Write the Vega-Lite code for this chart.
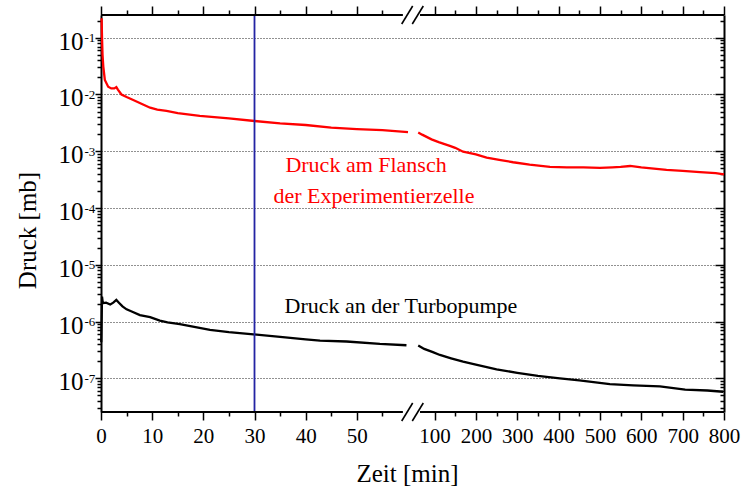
{
  "$schema": "https://vega.github.io/schema/vega-lite/v6.json",
  "width": 623,
  "height": 397,
  "autosize": "none",
  "padding": {"left": 101, "top": 15, "right": 17, "bottom": 78},
  "config": {"font": "Liberation Serif", "view": {"stroke": null}},
  "datasets": {
    "curves": [
      {"series": "Flansch", "seg": 1, "t": 0.12, "p": 0.22},
      {"series": "Flansch", "seg": 1, "t": 0.2, "p": 0.1},
      {"series": "Flansch", "seg": 1, "t": 0.3, "p": 0.05},
      {"series": "Flansch", "seg": 1, "t": 0.45, "p": 0.031},
      {"series": "Flansch", "seg": 1, "t": 0.75, "p": 0.018},
      {"series": "Flansch", "seg": 1, "t": 1.4, "p": 0.0137},
      {"series": "Flansch", "seg": 1, "t": 2.0, "p": 0.0128},
      {"series": "Flansch", "seg": 1, "t": 2.6, "p": 0.0128},
      {"series": "Flansch", "seg": 1, "t": 3.0, "p": 0.0135},
      {"series": "Flansch", "seg": 1, "t": 3.3, "p": 0.0122},
      {"series": "Flansch", "seg": 1, "t": 4.0, "p": 0.0100},
      {"series": "Flansch", "seg": 1, "t": 5.0, "p": 0.0090},
      {"series": "Flansch", "seg": 1, "t": 6.3, "p": 0.0080},
      {"series": "Flansch", "seg": 1, "t": 8.0, "p": 0.0068},
      {"series": "Flansch", "seg": 1, "t": 9.6, "p": 0.00585},
      {"series": "Flansch", "seg": 1, "t": 11, "p": 0.0054},
      {"series": "Flansch", "seg": 1, "t": 12.8, "p": 0.00512},
      {"series": "Flansch", "seg": 1, "t": 15, "p": 0.0047},
      {"series": "Flansch", "seg": 1, "t": 19.3, "p": 0.00418},
      {"series": "Flansch", "seg": 1, "t": 25, "p": 0.0038},
      {"series": "Flansch", "seg": 1, "t": 30, "p": 0.00341},
      {"series": "Flansch", "seg": 1, "t": 35, "p": 0.0031},
      {"series": "Flansch", "seg": 1, "t": 40, "p": 0.0029},
      {"series": "Flansch", "seg": 1, "t": 45, "p": 0.0026},
      {"series": "Flansch", "seg": 1, "t": 50, "p": 0.00246},
      {"series": "Flansch", "seg": 1, "t": 55, "p": 0.00235},
      {"series": "Flansch", "seg": 1, "t": 60, "p": 0.00218},
      {"series": "Flansch", "seg": 2, "t": 60.6, "p": 0.00214},
      {"series": "Flansch", "seg": 2, "t": 70, "p": 0.00196},
      {"series": "Flansch", "seg": 2, "t": 92.7, "p": 0.00162},
      {"series": "Flansch", "seg": 2, "t": 110, "p": 0.00145},
      {"series": "Flansch", "seg": 2, "t": 137, "p": 0.00124},
      {"series": "Flansch", "seg": 2, "t": 150, "p": 0.00115},
      {"series": "Flansch", "seg": 2, "t": 169, "p": 0.00098},
      {"series": "Flansch", "seg": 2, "t": 200, "p": 0.00088},
      {"series": "Flansch", "seg": 2, "t": 226, "p": 0.00077},
      {"series": "Flansch", "seg": 2, "t": 260, "p": 0.0007},
      {"series": "Flansch", "seg": 2, "t": 290, "p": 0.00064},
      {"series": "Flansch", "seg": 2, "t": 330, "p": 0.00058},
      {"series": "Flansch", "seg": 2, "t": 379, "p": 0.00053},
      {"series": "Flansch", "seg": 2, "t": 420, "p": 0.00052},
      {"series": "Flansch", "seg": 2, "t": 460, "p": 0.00052},
      {"series": "Flansch", "seg": 2, "t": 500, "p": 0.00051},
      {"series": "Flansch", "seg": 2, "t": 530, "p": 0.00052},
      {"series": "Flansch", "seg": 2, "t": 550, "p": 0.00053},
      {"series": "Flansch", "seg": 2, "t": 573, "p": 0.00055},
      {"series": "Flansch", "seg": 2, "t": 600, "p": 0.00052},
      {"series": "Flansch", "seg": 2, "t": 661, "p": 0.00047},
      {"series": "Flansch", "seg": 2, "t": 700, "p": 0.00045},
      {"series": "Flansch", "seg": 2, "t": 742, "p": 0.00043},
      {"series": "Flansch", "seg": 2, "t": 780, "p": 0.00041},
      {"series": "Flansch", "seg": 2, "t": 800, "p": 0.00039},
      {"series": "Turbo", "seg": 1, "t": 0.05, "p": 4.3e-7},
      {"series": "Turbo", "seg": 1, "t": 0.2, "p": 2.75e-6},
      {"series": "Turbo", "seg": 1, "t": 0.35, "p": 2.1e-6},
      {"series": "Turbo", "seg": 1, "t": 1.0, "p": 2.15e-6},
      {"series": "Turbo", "seg": 1, "t": 1.8, "p": 2.0e-6},
      {"series": "Turbo", "seg": 1, "t": 2.4, "p": 2.15e-6},
      {"series": "Turbo", "seg": 1, "t": 3.0, "p": 2.4e-6},
      {"series": "Turbo", "seg": 1, "t": 3.5, "p": 2.15e-6},
      {"series": "Turbo", "seg": 1, "t": 4.2, "p": 1.85e-6},
      {"series": "Turbo", "seg": 1, "t": 5.0, "p": 1.64e-6},
      {"series": "Turbo", "seg": 1, "t": 6.0, "p": 1.5e-6},
      {"series": "Turbo", "seg": 1, "t": 7.6, "p": 1.3e-6},
      {"series": "Turbo", "seg": 1, "t": 9.6, "p": 1.2e-6},
      {"series": "Turbo", "seg": 1, "t": 11.5, "p": 1.04e-6},
      {"series": "Turbo", "seg": 1, "t": 13, "p": 9.7e-7},
      {"series": "Turbo", "seg": 1, "t": 15.4, "p": 9.0e-7},
      {"series": "Turbo", "seg": 1, "t": 21.3, "p": 7.1e-7},
      {"series": "Turbo", "seg": 1, "t": 25, "p": 6.5e-7},
      {"series": "Turbo", "seg": 1, "t": 29.8, "p": 5.96e-7},
      {"series": "Turbo", "seg": 1, "t": 35, "p": 5.37e-7},
      {"series": "Turbo", "seg": 1, "t": 40, "p": 4.85e-7},
      {"series": "Turbo", "seg": 1, "t": 42.8, "p": 4.6e-7},
      {"series": "Turbo", "seg": 1, "t": 48, "p": 4.45e-7},
      {"series": "Turbo", "seg": 1, "t": 54.5, "p": 4.03e-7},
      {"series": "Turbo", "seg": 1, "t": 59.7, "p": 3.82e-7},
      {"series": "Turbo", "seg": 2, "t": 60.6, "p": 3.8e-7},
      {"series": "Turbo", "seg": 2, "t": 75, "p": 3.3e-7},
      {"series": "Turbo", "seg": 2, "t": 96, "p": 2.9e-7},
      {"series": "Turbo", "seg": 2, "t": 113, "p": 2.58e-7},
      {"series": "Turbo", "seg": 2, "t": 140, "p": 2.25e-7},
      {"series": "Turbo", "seg": 2, "t": 169, "p": 1.96e-7},
      {"series": "Turbo", "seg": 2, "t": 200, "p": 1.75e-7},
      {"series": "Turbo", "seg": 2, "t": 250, "p": 1.44e-7},
      {"series": "Turbo", "seg": 2, "t": 300, "p": 1.25e-7},
      {"series": "Turbo", "seg": 2, "t": 350, "p": 1.1e-7},
      {"series": "Turbo", "seg": 2, "t": 403, "p": 1.0e-7},
      {"series": "Turbo", "seg": 2, "t": 450, "p": 9.2e-8},
      {"series": "Turbo", "seg": 2, "t": 524, "p": 7.9e-8},
      {"series": "Turbo", "seg": 2, "t": 580, "p": 7.5e-8},
      {"series": "Turbo", "seg": 2, "t": 645, "p": 7.2e-8},
      {"series": "Turbo", "seg": 2, "t": 706, "p": 6.3e-8},
      {"series": "Turbo", "seg": 2, "t": 760, "p": 6.1e-8},
      {"series": "Turbo", "seg": 2, "t": 798, "p": 5.8e-8}
    ],
    "notes": [
      {"label": "Druck am Flansch", "t": 51.8, "p": 4.36e-4, "series": "Flansch"},
      {"label": "der Experimentierzelle", "t": 53.35, "p": 1.24e-4, "series": "Flansch"},
      {"label": "Druck an der Turbopumpe", "t": 58.63, "p": 1.397e-6, "series": "Turbo"}
    ]
  },
  "resolve": {"axis": {"x": "independent", "y": "independent"}},
  "layer": [
    {
      "data": {"name": "curves"},
      "mark": {"type": "line", "strokeWidth": 2.3, "clip": false},
      "encoding": {
        "x": {
          "field": "t", "type": "quantitative",
          "scale": {"type": "linear", "domain": [0, 60, 60.5, 800], "range": [0, 307, 317.2, 623], "nice": false, "zero": false},
          "axis": {
            "orient": "bottom",
            "values": [0, 5, 10, 15, 20, 25, 30, 35, 40, 45, 50, 55, 100, 150, 200, 250, 300, 350, 400, 450, 500, 550, 600, 650, 700, 750, 800],
            "labelExpr": "((datum.value < 60 && datum.value % 10 == 0) || (datum.value >= 100 && datum.value % 100 == 0)) ? datum.label : ''",
            "labelFont": "Liberation Serif", "labelFontSize": 21, "labelColor": "black",
            "labelPadding": 5, "labelOverlap": false, "labelFlush": false, "labelBound": false,
            "tickSize": {"condition": {"test": "(datum.value < 60 && datum.value % 10 == 0) || (datum.value >= 100 && datum.value % 100 == 0)", "value": 8}, "value": 4},
            "tickWidth": 1.5, "tickColor": "black",
            "domain": false, "grid": false,
            "title": "Zeit [min]", "titleFont": "Liberation Serif", "titleFontSize": 25, "titleFontWeight": "normal", "titleColor": "black",
            "titleX": 306, "titleY": 69, "titleBaseline": "alphabetic", "titleAlign": "center", "titleAngle": 0
          }
        },
        "y": {
          "field": "p", "type": "quantitative",
          "scale": {"type": "log", "domain": [2.55e-8, 0.2512], "nice": false},
          "axis": {
            "orient": "left",
            "values": [3e-8, 4e-8, 5e-8, 6e-8, 7e-8, 8e-8, 9e-8, 1e-7, 2e-7, 3e-7, 4e-7, 5e-7, 6e-7, 7e-7, 8e-7, 9e-7, 1e-6, 2e-6, 3e-6, 4e-6, 5e-6, 6e-6, 7e-6, 8e-6, 9e-6, 1e-5, 2e-5, 3e-5, 4e-5, 5e-5, 6e-5, 7e-5, 8e-5, 9e-5, 1e-4, 2e-4, 3e-4, 4e-4, 5e-4, 6e-4, 7e-4, 8e-4, 9e-4, 1e-3, 2e-3, 3e-3, 4e-3, 5e-3, 6e-3, 7e-3, 8e-3, 9e-3, 1e-2, 2e-2, 3e-2, 4e-2, 5e-2, 6e-2, 7e-2, 8e-2, 9e-2, 1e-1, 2e-1],
            "labelExpr": "abs(log(datum.value)/LN10 - round(log(datum.value)/LN10)) < 0.001 ? '10' : ''",
            "labelFont": "Liberation Serif", "labelFontSize": 25, "labelColor": "black",
            "labelBaseline": "alphabetic", "labelOffset": 11.5, "labelPadding": 12, "labelAlign": "right",
            "labelOverlap": false, "labelFlush": false, "labelBound": false,
            "tickSize": {"condition": {"test": "abs(log(datum.value)/LN10 - round(log(datum.value)/LN10)) < 0.001", "value": 6}, "value": 4},
            "tickWidth": 1.5, "tickColor": "black",
            "domain": true, "domainColor": "black", "domainWidth": 2,
            "grid": true, "gridDash": [1, 2], "gridColor": "#222222", "gridWidth": 1,
            "gridOpacity": {"condition": {"test": "abs(log(datum.value)/LN10 - round(log(datum.value)/LN10)) < 0.001", "value": 1}, "value": 0},
            "title": "Druck [mb]", "titleFont": "Liberation Serif", "titleFontSize": 25, "titleFontWeight": "normal", "titleColor": "black",
            "titleX": -66, "titleY": 215, "titleAngle": 270, "titleBaseline": "alphabetic", "titleAlign": "center"
          }
        },
        "color": {"field": "series", "type": "nominal", "scale": {"domain": ["Flansch", "Turbo"], "range": ["#ff0000", "#000000"]}, "legend": null},
        "detail": {"field": "seg"}
      }
    },
    {
      "data": {"values": [{}]},
      "mark": {"type": "rule", "color": "#2424a4", "strokeWidth": 1.8, "clip": false},
      "encoding": {
        "x": {
          "datum": 30, "type": "quantitative",
          "axis": {
            "orient": "top",
            "values": [0, 5, 10, 15, 20, 25, 30, 35, 40, 45, 50, 55, 100, 150, 200, 250, 300, 350, 400, 450, 500, 550, 600, 650, 700, 750, 800],
            "labels": false,
            "tickSize": {"condition": {"test": "(datum.value < 60 && datum.value % 10 == 0) || (datum.value >= 100 && datum.value % 100 == 0)", "value": 9}, "value": 5},
            "tickWidth": 1.5, "tickColor": "black",
            "domain": false, "grid": false, "title": null
          }
        },
        "y": {
          "datum": 2.55e-8, "type": "quantitative",
          "axis": {
            "orient": "left",
            "values": [1e-7, 1e-6, 1e-5, 1e-4, 1e-3, 1e-2, 1e-1],
            "labelExpr": "'-' + toString(-round(log(datum.value)/LN10))",
            "labelFont": "Liberation Serif", "labelFontSize": 13, "labelColor": "black",
            "labelBaseline": "alphabetic", "labelOffset": 4, "labelPadding": 17, "labelAlign": "left",
            "labelOverlap": false, "labelFlush": false, "labelBound": false,
            "ticks": false, "tickSize": 0, "domain": false, "grid": false, "title": null
          }
        },
        "y2": {"datum": 0.2512}
      }
    },
    {
      "data": {"name": "notes"},
      "mark": {"type": "text", "font": "Liberation Serif", "fontSize": 22, "align": "center", "baseline": "alphabetic", "clip": false},
      "encoding": {
        "x": {"field": "t", "type": "quantitative", "axis": null},
        "y": {
          "field": "p", "type": "quantitative",
          "axis": {
            "orient": "right",
            "values": [3e-8, 4e-8, 5e-8, 6e-8, 7e-8, 8e-8, 9e-8, 1e-7, 2e-7, 3e-7, 4e-7, 5e-7, 6e-7, 7e-7, 8e-7, 9e-7, 1e-6, 2e-6, 3e-6, 4e-6, 5e-6, 6e-6, 7e-6, 8e-6, 9e-6, 1e-5, 2e-5, 3e-5, 4e-5, 5e-5, 6e-5, 7e-5, 8e-5, 9e-5, 1e-4, 2e-4, 3e-4, 4e-4, 5e-4, 6e-4, 7e-4, 8e-4, 9e-4, 1e-3, 2e-3, 3e-3, 4e-3, 5e-3, 6e-3, 7e-3, 8e-3, 9e-3, 1e-2, 2e-2, 3e-2, 4e-2, 5e-2, 6e-2, 7e-2, 8e-2, 9e-2, 1e-1, 2e-1],
            "labels": false,
            "tickSize": {"condition": {"test": "abs(log(datum.value)/LN10 - round(log(datum.value)/LN10)) < 0.001", "value": -9}, "value": -4},
            "tickWidth": 1.5, "tickColor": "black",
            "domain": true, "domainColor": "black", "domainWidth": 2,
            "grid": false, "title": null
          }
        },
        "text": {"field": "label"},
        "color": {"field": "series", "type": "nominal", "legend": null}
      }
    },
    {
      "data": {"values": [{}]},
      "mark": {"type": "rule", "color": "black", "strokeWidth": 2, "clip": false},
      "encoding": {"x": {"datum": 0, "type": "quantitative", "axis": null}, "x2": {"datum": 59}, "y": {"datum": 0.2512, "type": "quantitative", "axis": null}}
    },
    {
      "data": {"values": [{}]},
      "mark": {"type": "rule", "color": "black", "strokeWidth": 2, "clip": false},
      "encoding": {"x": {"datum": 64.9, "type": "quantitative", "axis": null}, "x2": {"datum": 800}, "y": {"datum": 0.2512, "type": "quantitative", "axis": null}}
    },
    {
      "data": {"values": [{}]},
      "mark": {"type": "rule", "color": "black", "strokeWidth": 2, "clip": false},
      "encoding": {"x": {"datum": 0, "type": "quantitative", "axis": null}, "x2": {"datum": 59}, "y": {"datum": 2.55e-8, "type": "quantitative", "axis": null}}
    },
    {
      "data": {"values": [{}]},
      "mark": {"type": "rule", "color": "black", "strokeWidth": 2, "clip": false},
      "encoding": {"x": {"datum": 64.9, "type": "quantitative", "axis": null}, "x2": {"datum": 800}, "y": {"datum": 2.55e-8, "type": "quantitative", "axis": null}}
    },
    {
      "data": {"values": [{}]},
      "mark": {"type": "rule", "color": "black", "strokeWidth": 1.6, "clip": false},
      "encoding": {"x": {"datum": 58.77, "type": "quantitative", "axis": null}, "x2": {"datum": 60.23}, "y": {"datum": 0.1744, "type": "quantitative", "axis": null}, "y2": {"datum": 0.3619}}
    },
    {
      "data": {"values": [{}]},
      "mark": {"type": "rule", "color": "black", "strokeWidth": 1.6, "clip": false},
      "encoding": {"x": {"datum": 60.21, "type": "quantitative", "axis": null}, "x2": {"datum": 72.8}, "y": {"datum": 0.1744, "type": "quantitative", "axis": null}, "y2": {"datum": 0.3619}}
    },
    {
      "data": {"values": [{}]},
      "mark": {"type": "rule", "color": "black", "strokeWidth": 1.6, "clip": false},
      "encoding": {"x": {"datum": 58.77, "type": "quantitative", "axis": null}, "x2": {"datum": 60.23}, "y": {"datum": 1.772e-8, "type": "quantitative", "axis": null}, "y2": {"datum": 3.677e-8}}
    },
    {
      "data": {"values": [{}]},
      "mark": {"type": "rule", "color": "black", "strokeWidth": 1.6, "clip": false},
      "encoding": {"x": {"datum": 60.21, "type": "quantitative", "axis": null}, "x2": {"datum": 72.8}, "y": {"datum": 1.772e-8, "type": "quantitative", "axis": null}, "y2": {"datum": 3.677e-8}}
    }
  ]
}
